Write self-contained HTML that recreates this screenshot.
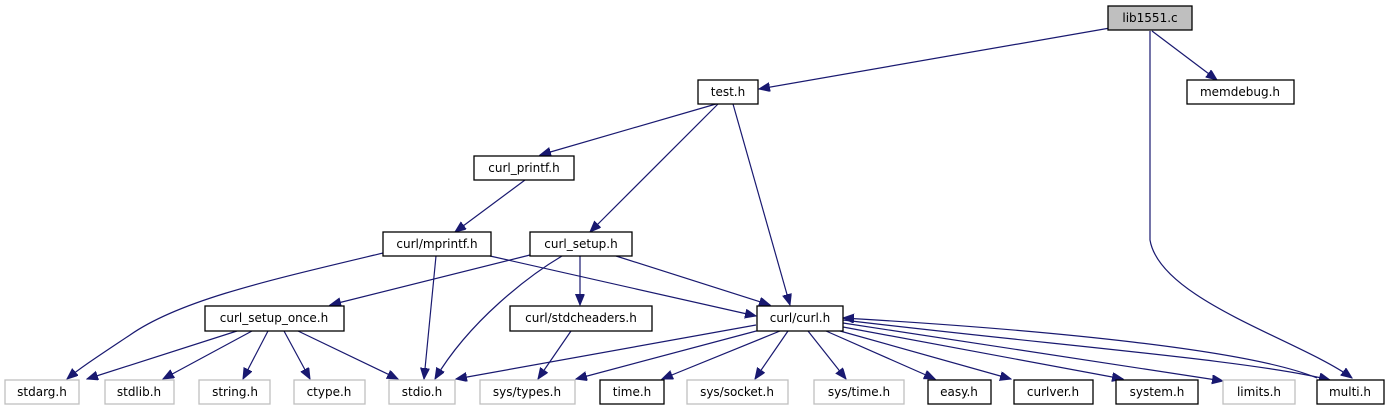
<!DOCTYPE html>
<html><head><meta charset="utf-8"><style>
html,body{margin:0;padding:0;background:#fff;}
svg{display:block;}
text{font-family:"DejaVu Sans","Liberation Sans",sans-serif;font-size:12px;fill:#000;}
.n{fill:#fff;stroke:#000;stroke-width:1.3;}
.g{fill:#fff;stroke:#bfbfbf;stroke-width:1.3;}
.e{fill:none;stroke:#191970;stroke-width:1.2;}
</style></head><body>
<svg width="1397" height="411" viewBox="0 0 1397 411" xmlns="http://www.w3.org/2000/svg">
<defs>
<marker id="a" markerUnits="userSpaceOnUse" markerWidth="12" markerHeight="10" refX="11" refY="4.5" orient="auto">
<path d="M0,0 L11,4.5 L0,9 z" fill="#191970" stroke="#191970"/>
</marker>
</defs>
<g marker-end="url(#a)">
<path class="e" d="M1110,28 L759,89"/>
<path class="e" d="M1152,31 L1217,80"/>
<path class="e" d="M1150,31 L1150,240 C1160,300 1300,340 1352,378"/>
<path class="e" d="M716,104 L540,155"/>
<path class="e" d="M718,104 L590,232"/>
<path class="e" d="M733,104 L790,305"/>
<path class="e" d="M525,180 L455,232"/>
<path class="e" d="M383,253 C270,280 180,300 130,335 C100,355 80,368 67,379"/>
<path class="e" d="M436,256 L424,379"/>
<path class="e" d="M490,256 L756,316"/>
<path class="e" d="M530,255 L330,305"/>
<path class="e" d="M562,256 C530,275 470,320 435,379"/>
<path class="e" d="M580,256 L580,305"/>
<path class="e" d="M616,256 L770,305"/>
<path class="e" d="M237,331 L87,379"/>
<path class="e" d="M252,331 L163,379"/>
<path class="e" d="M268,331 L243,379"/>
<path class="e" d="M284,331 L310,379"/>
<path class="e" d="M298,331 L398,379"/>
<path class="e" d="M571,331 L538,379"/>
<path class="e" d="M756,325 L456,379"/>
<path class="e" d="M760,330 L576,379"/>
<path class="e" d="M780,331 L662,379"/>
<path class="e" d="M788,331 L755,379"/>
<path class="e" d="M808,331 L846,379"/>
<path class="e" d="M826,331 L935,379"/>
<path class="e" d="M840,331 L1011,379"/>
<path class="e" d="M843,327 L1123,379"/>
<path class="e" d="M843,323 L1223,381"/>
<path class="e" d="M843,320 C1050,345 1250,360 1330,380"/>
<path class="e" d="M1317,378 C1250,350 1050,330 843,318"/>
</g>
<rect x="1108" y="6" width="84" height="24" fill="#bfbfbf" stroke="#000" stroke-width="1.3"/><text x="1150" y="22" text-anchor="middle">lib1551.c</text>
<rect class="n" x="698" y="80" width="60" height="24"/><text x="728" y="96" text-anchor="middle">test.h</text>
<rect class="n" x="1187" y="80" width="107" height="24"/><text x="1240" y="96" text-anchor="middle">memdebug.h</text>
<rect class="n" x="474" y="156" width="100" height="24"/><text x="524" y="172" text-anchor="middle">curl_printf.h</text>
<rect class="n" x="383" y="232" width="108" height="24"/><text x="437" y="248" text-anchor="middle">curl/mprintf.h</text>
<rect class="n" x="530" y="232" width="102" height="24"/><text x="581" y="248" text-anchor="middle">curl_setup.h</text>
<rect class="n" x="205" y="306" width="139" height="25"/><text x="274" y="322" text-anchor="middle">curl_setup_once.h</text>
<rect class="n" x="510" y="306" width="142" height="25"/><text x="581" y="322" text-anchor="middle">curl/stdcheaders.h</text>
<rect class="n" x="757" y="306" width="86" height="25"/><text x="800" y="322" text-anchor="middle">curl/curl.h</text>
<rect class="g" x="5" y="380" width="74" height="24"/><text x="42" y="396" text-anchor="middle">stdarg.h</text>
<rect class="g" x="105" y="380" width="69" height="24"/><text x="139" y="396" text-anchor="middle">stdlib.h</text>
<rect class="g" x="199" y="380" width="71" height="24"/><text x="235" y="396" text-anchor="middle">string.h</text>
<rect class="g" x="294" y="380" width="71" height="24"/><text x="329" y="396" text-anchor="middle">ctype.h</text>
<rect class="g" x="389" y="380" width="66" height="24"/><text x="422" y="396" text-anchor="middle">stdio.h</text>
<rect class="g" x="480" y="380" width="95" height="24"/><text x="527" y="396" text-anchor="middle">sys/types.h</text>
<rect class="n" x="600" y="380" width="64" height="24"/><text x="632" y="396" text-anchor="middle">time.h</text>
<rect class="g" x="687" y="380" width="101" height="24"/><text x="737" y="396" text-anchor="middle">sys/socket.h</text>
<rect class="g" x="814" y="380" width="90" height="24"/><text x="859" y="396" text-anchor="middle">sys/time.h</text>
<rect class="n" x="928" y="380" width="63" height="24"/><text x="959" y="396" text-anchor="middle">easy.h</text>
<rect class="n" x="1014" y="380" width="79" height="24"/><text x="1053" y="396" text-anchor="middle">curlver.h</text>
<rect class="n" x="1116" y="380" width="82" height="24"/><text x="1157" y="396" text-anchor="middle">system.h</text>
<rect class="g" x="1223" y="380" width="72" height="24"/><text x="1259" y="396" text-anchor="middle">limits.h</text>
<rect class="n" x="1317" y="380" width="67" height="24"/><text x="1350" y="396" text-anchor="middle">multi.h</text>
</svg>
</body></html>
